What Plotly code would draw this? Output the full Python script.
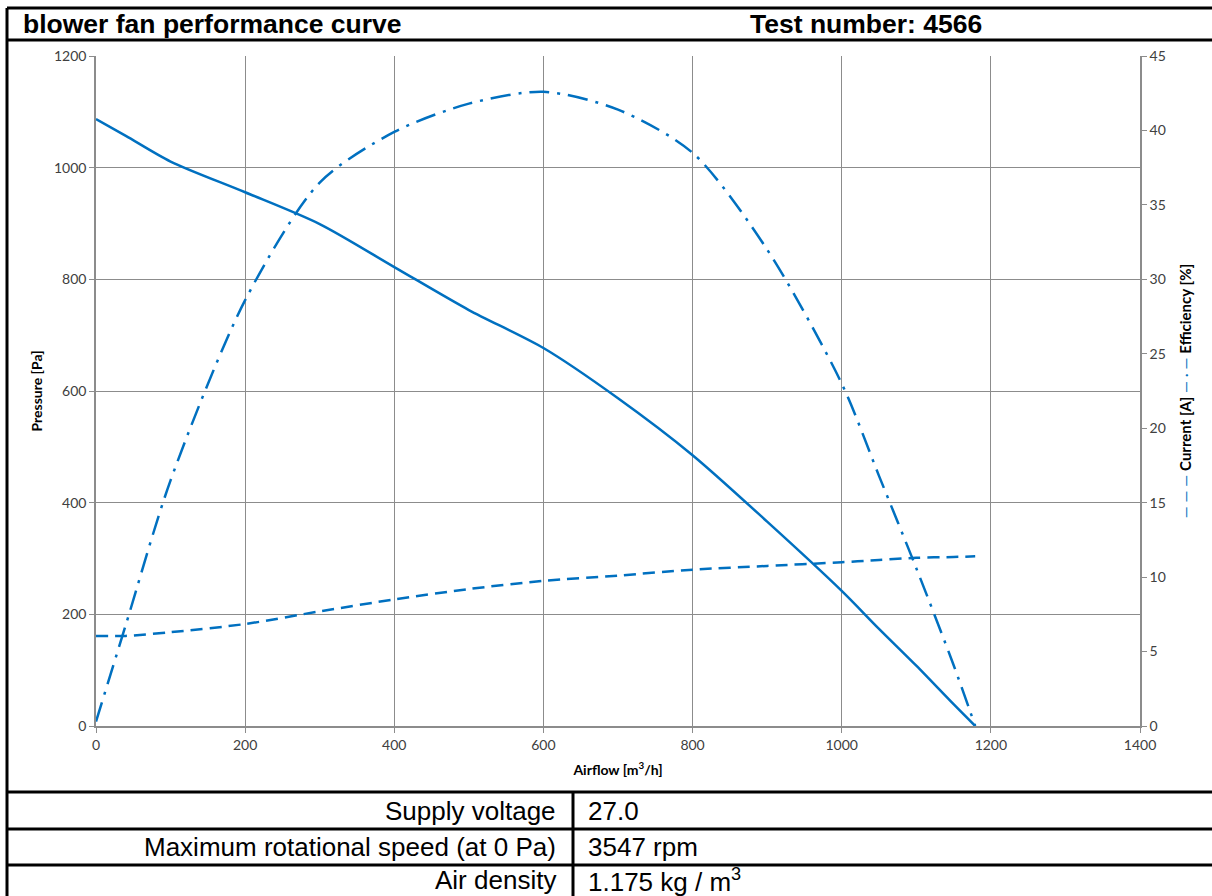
import plotly.graph_objects as go

# ---- data ----
airflow = [0, 40, 100, 200, 300, 400, 500, 600, 700, 800, 900, 1000, 1050, 1100, 1150, 1179]
pressure = [1087, 1057, 1011, 956, 899, 822, 745, 677, 587, 485, 366, 242, 174, 108, 39, 0]
current = [6.05, 6.05, 6.3, 6.85, 7.7, 8.5, 9.2, 9.75, 10.1, 10.5, 10.75, 11.0, 11.15, 11.3, 11.35, 11.4]
efficiency = [0.3, 6.8, 16.5, 28.6, 36.5, 39.9, 41.8, 42.6, 41.4, 38.5, 32.0, 23.0, 16.8, 10.6, 4.1, 0.0]

x_ticks = [0, 200, 400, 600, 800, 1000, 1200, 1400]
left_ticks = [0, 200, 400, 600, 800, 1000, 1200]
right_ticks = [0, 5, 10, 15, 20, 25, 30, 35, 40, 45]

title_left = "blower fan performance curve"
title_right = "Test number: 4566"
table_labels = ["Supply voltage", "Maximum rotational speed (at 0 Pa)", "Air density"]
table_values = ["27.0", "3547 rpm", "1.175 kg / m<sup>3</sup>"]

BLUE = "#0070C0"
W, H = 1212, 896
L, R, T, B = 96, 1140, 56, 726  # plot area in pixels


def px(x):
    return (x - L) / (R - L)


def py(y):
    return (B - y) / (B - T)


fig = go.Figure()
fig.add_trace(go.Scatter(x=airflow, y=pressure, mode="lines", name="Pressure",
                         line=dict(color=BLUE, width=2.5, shape="spline", smoothing=0.8)))
fig.add_trace(go.Scatter(x=airflow, y=current, mode="lines", name="Current", yaxis="y2",
                         line=dict(color=BLUE, width=2.5, dash="12px,7px", shape="spline", smoothing=0.8)))
fig.add_trace(go.Scatter(x=airflow, y=efficiency, mode="lines", name="Efficiency", yaxis="y2",
                         line=dict(color=BLUE, width=2.5, dash="20px,8px,3px,8px", shape="spline", smoothing=0.8)))

tickfont = dict(family="Lato, Open Sans, sans-serif", size=14, color="#404040")
axtitlefont = dict(family="Lato, Open Sans, sans-serif", size=14, color="#000000")
axtitlefont_r = dict(family="Lato, Open Sans, sans-serif", size=15, color="#000000")

fig.update_layout(
    width=W, height=H,
    margin=dict(l=L, r=W - R, t=T, b=H - B, pad=0),
    paper_bgcolor="white", plot_bgcolor="white",
    showlegend=False,
    xaxis=dict(range=[0, 1400], tickvals=x_ticks, showgrid=True, gridcolor="#8c8c8c", gridwidth=1,
               zeroline=False, showline=True, linecolor="#8c8c8c", linewidth=1.5,
               ticks="outside", ticklen=5, tickcolor="#8c8c8c", tickfont=tickfont,
               title=dict(text="<b>Airflow [m<sup>3</sup>/h]</b>", font=axtitlefont, standoff=14)),
    yaxis=dict(range=[0, 1200], tickvals=left_ticks, showgrid=True, gridcolor="#8c8c8c", gridwidth=1,
               zeroline=False, showline=True, linecolor="#8c8c8c", linewidth=1.5,
               ticks="outside", ticklen=5, tickcolor="#8c8c8c", tickfont=tickfont,
               title=dict(text="<b>Pressure [Pa]</b>", font=axtitlefont, standoff=8)),
    yaxis2=dict(range=[0, 45], tickvals=right_ticks, overlaying="y", side="right", showgrid=False,
                zeroline=False, showline=True, linecolor="#8c8c8c", linewidth=1.5,
                ticks="outside", ticklen=5, tickcolor="#8c8c8c", tickfont=tickfont,
                title=dict(text=("<span style='color:" + BLUE + "'>— — —</span> <b>Current [A]</b> "
                                 "<span style='color:" + BLUE + "'>— · —</span> <b>Efficiency [%]</b>"),
                           font=axtitlefont_r, standoff=16)),
)

# frame lines
lines = [
    (7, 8, W + 5, 8),
    (7, 40, W + 5, 40),
    (7, 8, 7, H + 5),
    (7, 792, W + 5, 792),
    (7, 829, W + 5, 829),
    (7, 865, W + 5, 865),
    (573, 792, 573, H + 5),
]
for x0, y0, x1, y1 in lines:
    fig.add_shape(type="line", xref="paper", yref="paper",
                  x0=px(x0), y0=py(y0), x1=px(x1), y1=py(y1),
                  line=dict(color="black", width=3))

hfont = dict(family="Liberation Sans, Arial, sans-serif", size=26.5, color="black")
fig.add_annotation(xref="paper", yref="paper", x=px(21), y=py(24), xanchor="left", yanchor="middle",
                   text="<b>" + title_left + "</b>", showarrow=False, font=hfont)
fig.add_annotation(xref="paper", yref="paper", x=px(866), y=py(24), xanchor="center", yanchor="middle",
                   text="<b>" + title_right + "</b>", showarrow=False, font=hfont)

tfont = dict(family="Liberation Sans, Arial, sans-serif", size=26, color="black")
row_y = [811, 847, 880]
for lab, val, yy in zip(table_labels, table_values, row_y):
    fig.add_annotation(xref="paper", yref="paper", x=px(558), y=py(yy), xanchor="right", yanchor="middle",
                       text=lab, showarrow=False, font=tfont)
    fig.add_annotation(xref="paper", yref="paper", x=px(586), y=py(yy), xanchor="left", yanchor="middle",
                       text=val, showarrow=False, font=tfont)

fig.write_html("out.html", config={"displayModeBar": False},
               post_script="document.body.style.margin='0px';")
